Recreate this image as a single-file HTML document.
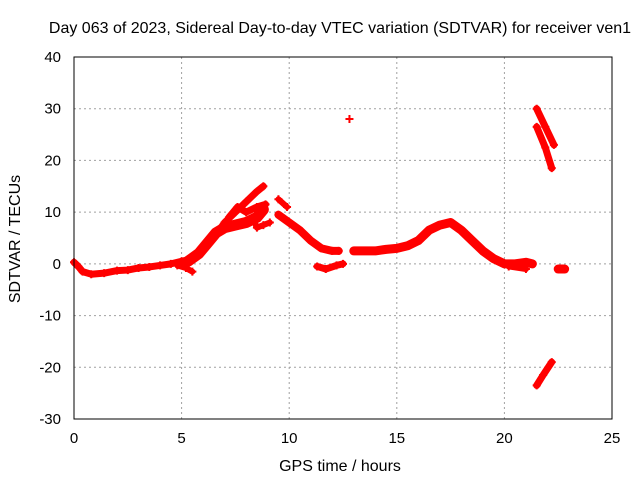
<!DOCTYPE html>
<html><head><meta charset="utf-8"><style>
body{margin:0;background:#fff;width:640px;height:480px;overflow:hidden}
svg text{font-family:"Liberation Sans",sans-serif;font-size:15px;fill:#000}
svg text.big{font-size:16px}
</style></head><body>
<svg id="chart" width="640" height="480" xmlns="http://www.w3.org/2000/svg">
<rect width="640" height="480" fill="#fff"/>
<text class="big" x="340" y="33" text-anchor="middle">Day 063 of 2023, Sidereal Day-to-day VTEC variation (SDTVAR) for receiver ven1</text>
<text class="big" x="340" y="471" text-anchor="middle">GPS time / hours</text>
<text class="big" transform="translate(20,239) rotate(-90)" text-anchor="middle">SDTVAR / TECUs</text>
<g id="grid"></g><g id="marks"></g>
<rect x="74" y="57" width="538" height="362" fill="none" stroke="#000" stroke-width="1"/>
<g id="ticks"></g>
</svg>
<script>
const xTicks=[0,5,10,15,20,25];
const yTicks=[-30,-20,-10,0,10,20,30,40];
const trackEarly=[[0,0.3],[0.2,-0.5],[0.4,-1.5],[0.8,-2],[1.4,-1.8],[2,-1.3],[2.5,-1.2],[3,-0.8],[3.5,-0.6],[4,-0.3],[4.5,0],[5,0.5],[5.3,0.8]];
const trackDip=[[4.8,-0.3],[5.2,-0.8],[5.5,-1.5]];
const trackRise=[[5.3,0.5],[5.8,2],[6.2,4],[6.6,6],[7,7],[7.5,7.5],[8,8],[8.5,9],[8.8,10.5]];
const trackUpper=[[6.5,5],[7,8],[7.5,10],[8,12],[8.5,14],[8.8,15]];
const trackMid=[[7.2,9],[7.6,11],[8,10],[8.5,11],[8.9,11.5]];
const trackLow=[[8.3,9],[8.5,7],[8.8,7.5],[9.1,8]];
const trackNoon=[[9.5,12.5],[9.9,11]];
const trackFall=[[9.5,9.5],[10,8],[10.5,6.5],[11,4.5],[11.5,3],[12,2.5],[12.3,2.5]];
const trackNeg=[[11.3,-0.5],[11.7,-1],[12.2,-0.3],[12.5,0]];
const trackSingle=[[12.8,28]];
const trackAfternoon=[[13,2.5],[13.5,2.5],[14,2.5],[14.5,2.8],[15,3],[15.5,3.5],[16,4.5],[16.5,6.5],[17,7.5],[17.5,8],[18,6.5],[18.5,4.5],[19,2.5],[19.5,1],[20,0],[20.5,0],[21,0.3],[21.3,0]];
const trackEvening=[[20.2,-0.5],[21,-1]];
const trackSpikeA=[[21.5,30],[21.9,26.5],[22.3,23]];
const trackSpikeB=[[21.5,26.5],[21.9,22.5],[22.2,18.5]];
const trackSpikeNeg=[[21.5,-23.5],[21.8,-21.5],[22.2,-19]];
const trackLate=[[22.5,-1],[22.8,-1]];
const tracks=[trackEarly,trackDip,trackRise,trackUpper,trackMid,trackLow,trackNoon,trackFall,trackNeg,trackSingle,trackAfternoon,trackEvening,trackSpikeA,trackSpikeB,trackSpikeNeg,trackLate];
const trackWidths=[7,6,11,7,7,6,6,8,7,0,9,6,7,7,7,9];
const X=v=>74+(v-0)*538/25, Y=v=>419-(v+30)*362/70;
const NS="http://www.w3.org/2000/svg";
const grid=document.getElementById('grid'),ticks=document.getElementById('ticks'),marks=document.getElementById('marks');
function mk(tag,attrs,parent){const e=document.createElementNS(NS,tag);for(const k in attrs)e.setAttribute(k,attrs[k]);parent.appendChild(e);return e;}
xTicks.forEach(t=>{
 if(t>0&&t<25){const g=mk('line',{x1:X(t),x2:X(t),y1:57,y2:419,stroke:'#a0a0a0','stroke-dasharray':'2,3'},grid);
 
 }
 const l=mk('text',{x:X(t),y:443,'text-anchor':'middle'},ticks);l.textContent=t;
 
 
});
yTicks.forEach(t=>{
 if(t>-30&&t<40){const g=mk('line',{x1:74,x2:612,y1:Y(t),y2:Y(t),stroke:'#a0a0a0','stroke-dasharray':'2,3'},grid);
 
 }
 const l=mk('text',{x:61,y:Y(t)+5,'text-anchor':'end'},ticks);l.textContent=t;
 
 
});
tracks.forEach((tr,i)=>{
 if(tr.length>1){const p=mk('polyline',{points:tr.map(d=>X(d[0])+','+Y(d[1])).join(' '),fill:'none',stroke:'#f00','stroke-width':trackWidths[i],'stroke-linejoin':'round','stroke-linecap':'round'},marks);
 
 }
 tr.forEach(d=>{const x=X(d[0]),y=Y(d[1]);
  const m=mk('path',{d:`M${x-4},${y}h8M${x},${y-4}v8`,stroke:'#f00','stroke-width':2},marks);
  
  
 });
});
</script>
</body></html>
